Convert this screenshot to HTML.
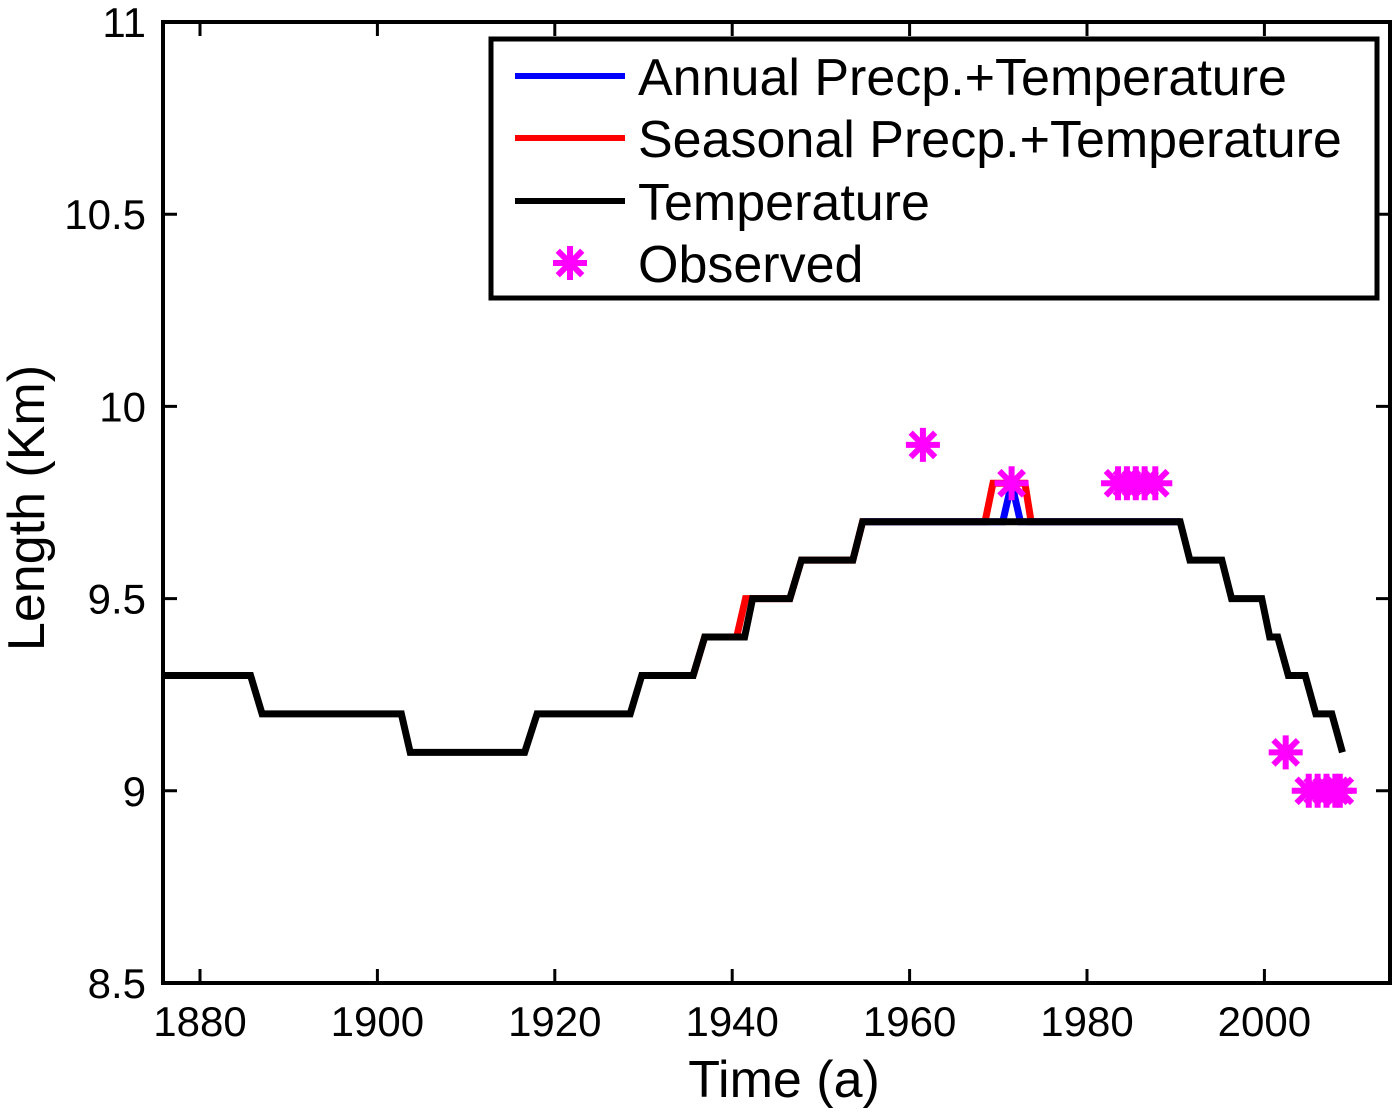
<!DOCTYPE html>
<html><head><meta charset="utf-8"><style>
html,body{margin:0;padding:0;background:#fff;}
svg text{font-family:"Liberation Sans",Arial,sans-serif;}
</style></head><body>
<svg id="chart" width="1400" height="1113" viewBox="0 0 1400 1113" xmlns="http://www.w3.org/2000/svg">
<rect width="1400" height="1113" fill="#fff"/>
<g id="plot"></g>
</svg>
<script>
const xTicks = [1880,1900,1920,1940,1960,1980,2000];
const yTicks = [8.5,9,9.5,10,10.5,11];
const yTickLabels = ["8.5","9","9.5","10","10.5","11"];
const tempYears = [1875.8,1885.7,1887,1902.7,1903.7,1916.6,1918,1928.5,1929.8,1935.6,1936.9,1941.4,1942.3,1946.5,1947.8,1953.6,1954.7,1990.5,1991.6,1995.2,1996.3,1999.7,2000.6,2001.5,2002.7,2004.6,2005.8,2007.6,2008.8];
const tempLen = [9.3,9.3,9.2,9.2,9.1,9.1,9.2,9.2,9.3,9.3,9.4,9.4,9.5,9.5,9.6,9.6,9.7,9.7,9.6,9.6,9.5,9.5,9.4,9.4,9.3,9.3,9.2,9.2,9.1];
const seasYears = [1935.6,1936.9,1940.5,1941.5,1946.5,1947.8,1953.6,1954.7,1968.5,1969.4,1973,1973.7,1990.5];
const seasLen = [9.3,9.4,9.4,9.5,9.5,9.6,9.6,9.7,9.7,9.8,9.8,9.7,9.7];
const annYears = [1954.7,1970.5,1971.5,1972.5,1990.5];
const annLen = [9.7,9.7,9.8,9.7,9.7];
const obsYears = [1961.5,1971.5,1983.5,1984.5,1985.5,1986.5,1987.7,2002.4,2005,2006,2007,2008,2008.5];
const obsLen = [9.9,9.8,9.8,9.8,9.8,9.8,9.8,9.1,9.0,9.0,9.0,9.0,9.0];

const L=163,R=1390,T=22,B=983;
const x = yr => 200 + (yr-1880)*8.87;
const y = v => T + (11-v)*(B-T)/2.5;
const NS="http://www.w3.org/2000/svg";
const g=document.getElementById('plot');
function mk(tag, attrs, parent){const e=document.createElementNS(NS,tag);for(const k in attrs)e.setAttribute(k,attrs[k]);(parent||g).appendChild(e);return e;}

xTicks.forEach((t)=>{
  const tk=mk('path',{d:`M${x(t)},${B}v-14M${x(t)},${T}v14`,stroke:'#000','stroke-width':3});
  
  
  const lb=mk('text',{x:x(t),y:1036,'font-size':42,'text-anchor':'middle'});
  lb.textContent=t;
  
  
});
yTicks.forEach((t,i)=>{
  const tk=mk('path',{d:`M${L},${y(t)}h14M${R},${y(t)}h-14`,stroke:'#000','stroke-width':3});
  
  
  const lb=mk('text',{x:146,y:y(t)+15,'font-size':42,'text-anchor':'end'});
  lb.textContent=yTickLabels[i];
  
  
});

function line(xs,vs,color,name){
  const p=mk('polyline',{points:xs.map((v,i)=>x(v)+','+y(vs[i])).join(' '),fill:'none',stroke:color,'stroke-width':7,'stroke-linejoin':'miter'});
  
  
}
line(seasYears,seasLen,'#ff0000','seasonal-series-line');
line(annYears,annLen,'#0000ff','annual-series-line');
line(tempYears,tempLen,'#000','temperature-series-line');

function star(cx,cy,s,parent){
  const d=`M${cx-s},${cy}h${2*s}M${cx},${cy-s}v${2*s}M${cx-s*0.72},${cy-s*0.72}l${1.44*s},${1.44*s}M${cx-s*0.72},${cy+s*0.72}l${1.44*s},${-1.44*s}`;
  return mk('path',{d,stroke:'#ff00ff','stroke-width':6},parent);
}
obsYears.forEach((yr,i)=>{
  const s=star(x(yr),y(obsLen[i]),17);
  
  
});

const ax=mk('rect',{x:L,y:T,width:R-L,height:B-T,fill:'none',stroke:'#000','stroke-width':4});



const xt=mk('text',{x:784,y:1097,'font-size':52,'text-anchor':'middle'});
xt.textContent='Time (a)';


const yt=mk('text',{x:0,y:0,'font-size':52,'text-anchor':'middle',transform:'translate(44,508) rotate(-90)'});
yt.textContent='Length (Km)';



const lg=mk('g',{});


mk('rect',{x:491,y:39,width:886,height:259,fill:'#fff',stroke:'#000','stroke-width':5},lg);
const entries=[['Annual Precp.+Temperature','#0000ff'],['Seasonal Precp.+Temperature','#ff0000'],['Temperature','#000'],['Observed',null]];
const rows=[76,138,201,263];
entries.forEach((e,i)=>{
  const eg=mk('g',{},lg);
  
  
  if(e[1]) mk('line',{x1:515,x2:625,y1:rows[i],y2:rows[i],stroke:e[1],'stroke-width':6},eg);
  else star(570,rows[i],17,eg);
  const t=mk('text',{x:638,y:rows[i]+19,'font-size':52},eg);
  t.textContent=e[0];
});
</script>
</body></html>
